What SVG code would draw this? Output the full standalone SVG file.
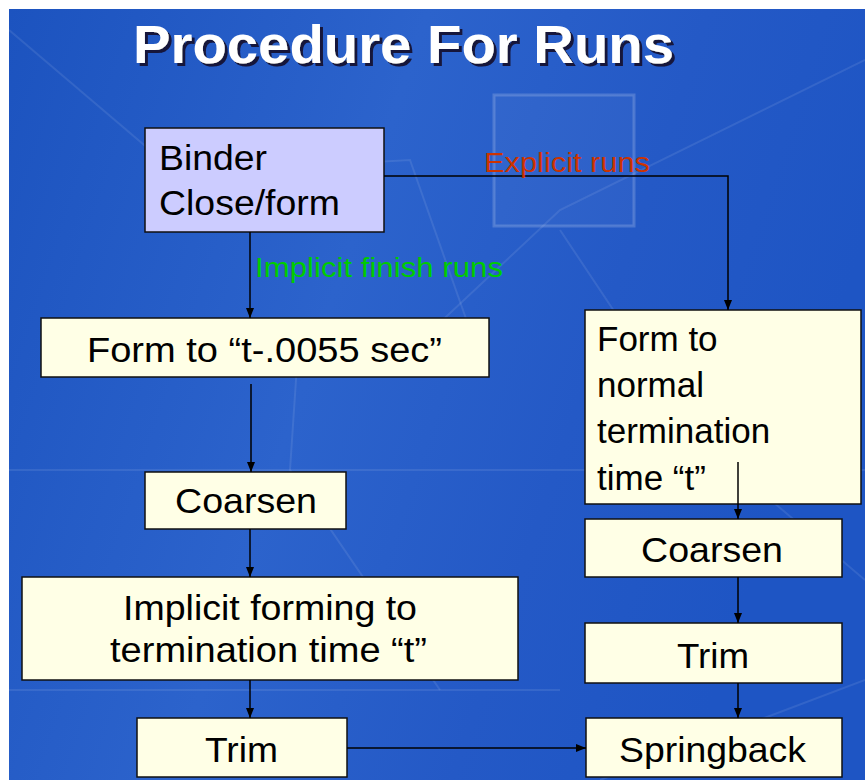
<svg xmlns="http://www.w3.org/2000/svg" width="865" height="780" viewBox="0 0 865 780">
  <defs>
    <linearGradient id="bg" x1="0" y1="0" x2="1" y2="0.3">
      <stop offset="0" stop-color="#1C53BF"/>
      <stop offset="0.45" stop-color="#2C63CC"/>
      <stop offset="0.75" stop-color="#2459C6"/>
      <stop offset="1" stop-color="#1E55C4"/>
    </linearGradient>
    <filter id="shadow" x="-5%" y="-20%" width="115%" height="150%">
      <feOffset in="SourceAlpha" dx="3" dy="3" result="off"/>
      <feFlood flood-color="#15153A"/>
      <feComposite in2="off" operator="in" result="sh"/>
      <feMerge>
        <feMergeNode in="sh"/>
        <feMergeNode in="SourceGraphic"/>
      </feMerge>
    </filter>
    <marker id="arr" viewBox="0 0 10 10" refX="10" refY="5" markerWidth="10" markerHeight="10" markerUnits="userSpaceOnUse" orient="auto">
      <path d="M0,1 L10,5 L0,9 Z" fill="#000"/>
    </marker>
    <style>
      .box { fill: #FFFFE6; stroke: #111; stroke-width: 1.5; }
      .boxb { fill: #CCCCFF; stroke: #111; stroke-width: 1.5; }
      .t { font-family: "Liberation Sans", Arial, sans-serif; font-size: 35px; fill: #000; }
      .lbl { font-family: "Liberation Sans", Arial, sans-serif; font-size: 27px; }
      .conn { stroke: #000; stroke-width: 1.5; fill: none; }
      .deco { stroke: #FFFFFF; stroke-opacity: 0.09; stroke-width: 2; fill: none; }
      .title { font-family: "Liberation Sans", Arial, sans-serif; font-weight: bold; font-size: 54px; fill: #FFFFFF; }
    </style>
  </defs>

  <rect x="0" y="0" width="865" height="780" fill="#FFFFFF"/>
  <rect x="9" y="9" width="856" height="771" fill="url(#bg)"/>

  <g id="background-decor">
    <path class="deco" d="M9,30 L150,150"/>
    <path class="deco" d="M230,170 L410,160 L470,330"/>
    <path class="deco" d="M300,320 L290,470 L440,690"/>
    <path class="deco" d="M400,360 L560,210 L865,60"/>
    <path class="deco" d="M560,230 L700,440 L865,580"/>
    <path class="deco" d="M600,780 L865,680"/>
    <path class="deco" d="M9,470 L865,470"/>
    <path class="deco" d="M9,690 L560,690"/>
    <rect x="494" y="95" width="140" height="131" fill="#FFFFFF" fill-opacity="0.04" stroke="#FFFFFF" stroke-opacity="0.18" stroke-width="3"/>
  </g>

  <g id="title">
    <text class="title" x="133" y="63" filter="url(#shadow)" textLength="541" lengthAdjust="spacingAndGlyphs">Procedure For Runs</text>
  </g>

  <g id="binder">
    <rect class="boxb" x="145" y="128" width="239" height="104"/>
    <text class="t" x="159" y="170" textLength="108" lengthAdjust="spacingAndGlyphs">Binder</text>
    <text class="t" x="159" y="215" textLength="181" lengthAdjust="spacingAndGlyphs">Close/form</text>
  </g>

  <g id="form-t0055">
    <rect class="box" x="41" y="318" width="448" height="59"/>
    <text class="t" x="87" y="362" textLength="355" lengthAdjust="spacingAndGlyphs">Form to “t-.0055 sec”</text>
  </g>

  <g id="coarsen-left">
    <rect class="box" x="145" y="472" width="201" height="57"/>
    <text class="t" x="175" y="513" textLength="142" lengthAdjust="spacingAndGlyphs">Coarsen</text>
  </g>

  <g id="implicit-forming">
    <rect class="box" x="22" y="577" width="496" height="103"/>
    <text class="t" x="123" y="620" textLength="294" lengthAdjust="spacingAndGlyphs">Implicit forming to</text>
    <text class="t" x="110" y="662" textLength="317" lengthAdjust="spacingAndGlyphs">termination time “t”</text>
  </g>

  <g id="trim-left">
    <rect class="box" x="137" y="718" width="210" height="59"/>
    <text class="t" x="205" y="762" textLength="73" lengthAdjust="spacingAndGlyphs">Trim</text>
  </g>

  <g id="form-normal">
    <rect class="box" x="585" y="310" width="276" height="194"/>
    <text class="t" x="597" y="351">Form to</text>
    <text class="t" x="597" y="397">normal</text>
    <text class="t" x="597" y="443">termination</text>
    <text class="t" x="597" y="490">time “t”</text>
  </g>

  <g id="coarsen-right">
    <rect class="box" x="585" y="519" width="257" height="58"/>
    <text class="t" x="641" y="562" textLength="142" lengthAdjust="spacingAndGlyphs">Coarsen</text>
  </g>

  <g id="trim-right">
    <rect class="box" x="585" y="623" width="257" height="60"/>
    <text class="t" x="677" y="668" textLength="72" lengthAdjust="spacingAndGlyphs">Trim</text>
  </g>

  <g id="springback">
    <rect class="box" x="586" y="718" width="256" height="59"/>
    <text class="t" x="619" y="762" textLength="187" lengthAdjust="spacingAndGlyphs">Springback</text>
  </g>

  <g id="connectors">
    <line class="conn" x1="250" y1="232" x2="250" y2="318" marker-end="url(#arr)"/>
    <polyline class="conn" points="384,176 728,176 728,310" marker-end="url(#arr)"/>
    <line class="conn" x1="251" y1="384" x2="251" y2="472" marker-end="url(#arr)"/>
    <line class="conn" x1="250" y1="529" x2="250" y2="577" marker-end="url(#arr)"/>
    <line class="conn" x1="250" y1="680" x2="250" y2="718" marker-end="url(#arr)"/>
    <line class="conn" x1="347" y1="748" x2="586" y2="748" marker-end="url(#arr)"/>
    <line class="conn" x1="738" y1="462" x2="738" y2="519" marker-end="url(#arr)"/>
    <line class="conn" x1="738" y1="577" x2="738" y2="623" marker-end="url(#arr)"/>
    <line class="conn" x1="738" y1="683" x2="738" y2="718" marker-end="url(#arr)"/>
    <text class="lbl" x="484" y="172" fill="#CC3300" textLength="166" lengthAdjust="spacingAndGlyphs">Explicit runs</text>
    <text class="lbl" x="255" y="277" fill="#00CC00" textLength="248" lengthAdjust="spacingAndGlyphs">Implicit finish runs</text>
  </g>
</svg>
